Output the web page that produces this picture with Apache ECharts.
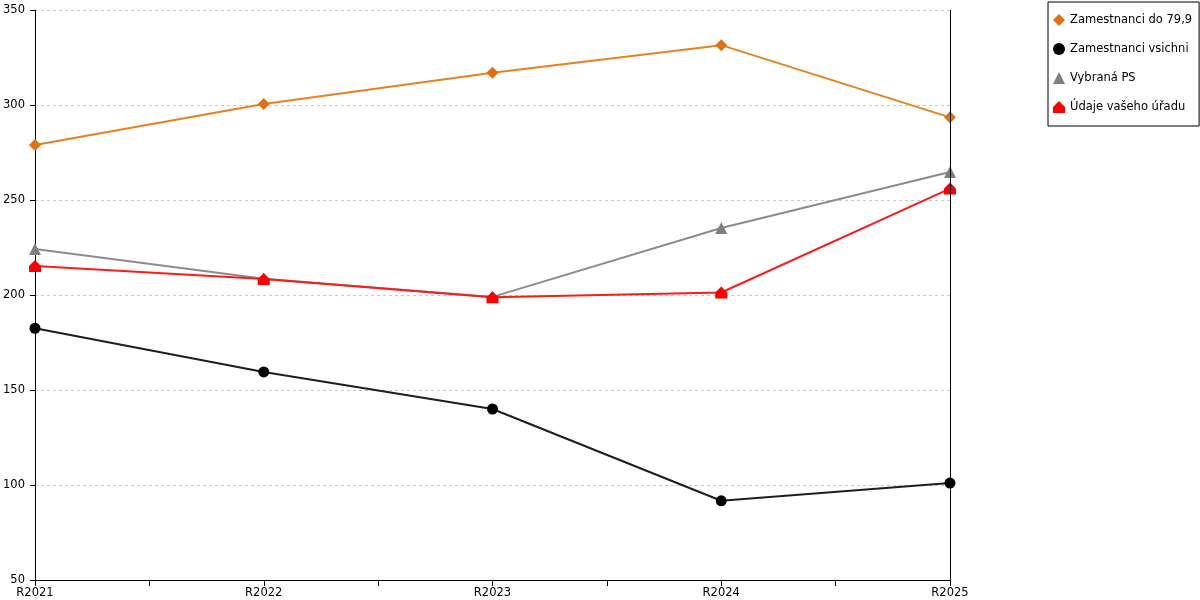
<!DOCTYPE html>
<html>
<head>
<meta charset="utf-8">
<script src="https://cdn.jsdelivr.net/npm/echarts@6/dist/echarts.min.js"></script>
<style>
html,body{margin:0;padding:0;background:#fff;}
#chart{width:1200px;height:600px;}
</style>
</head>
<body>
<div id="chart"></div>
<script>
var categories = ['R2021', 'R2022', 'R2023', 'R2024', 'R2025'];
var seriesNames = ['Zamestnanci do 79,9', 'Zamestnanci vsichni', 'Vybraná PS', 'Údaje vašeho úřadu'];
var orangeValues = [279, 300.5, 317, 331.5, 293.5];
var blackValues = [182.5, 159.5, 140, 91.7, 101];
var grayValues = [224.2, 208.5, 199, 235.3, 264.7];
var redValues = [215.2, 208.4, 198.8, 201.3, 256];
var yTicks = [50, 100, 150, 200, 250, 300, 350];

// house-shaped marker for the last series
var houseSymbol = 'path://M0,5 L5,0 L10,5 L10,10 L0,10 Z';

function toPoints(values){
	var pts = [];
	for (var i = 0; i < values.length; i++) {
		pts.push([i, values[i]]);
	}
	return pts;
}

var chart = echarts.init(document.getElementById('chart'));
var font = 'DejaVu Sans';

option = {
	animation: false,
	backgroundColor: '#fff',
	textStyle: { fontFamily: font },
	grid: { left: 35, right: 250, top: 10, bottom: 20, containLabel: false },
	legend: {
		orient: 'vertical',
		left: 1048,
		top: 2,
		padding: [12, 7, 13, 5],
		itemGap: 17,
		itemWidth: 12,
		itemHeight: 12,
		borderColor: '#000',
		borderWidth: 1,
		textStyle: { fontFamily: font, fontSize: 11.5, color: '#000' },
		data: [
			{ name: seriesNames[0], icon: 'diamond' },
			{ name: seriesNames[1], icon: 'circle' },
			{ name: seriesNames[2], icon: 'triangle' },
			{ name: seriesNames[3], icon: houseSymbol }
		]
	},
	xAxis: {
		type: 'value',
		min: 0,
		max: categories.length - 1,
		interval: 0.5,
		axisLine: { show: true, onZero: false, lineStyle: { color: '#000', width: 1 } },
		axisTick: { show: true, length: 6, inside: false, lineStyle: { color: '#000' } },
		splitLine: { show: false },
		axisLabel: {
			color: '#000',
			fontSize: 11.5,
			fontFamily: font,
			margin: 7,
			showMinLabel: true,
			showMaxLabel: true,
			formatter: function(v){
				return Number.isInteger(v) ? categories[v] : '';
			}
		}
	},
	yAxis: {
		type: 'value',
		position: 'left',
		min: yTicks[0],
		max: yTicks[yTicks.length - 1],
		interval: 50,
		axisLine: { show: true, onZero: false, lineStyle: { color: '#000', width: 1 } },
		axisTick: { show: true, inside: false, length: 5, lineStyle: { color: '#000', width: 1 } },
		axisLabel: { color: '#000', fontSize: 11.5, fontFamily: font, margin: 10 },
		splitLine: { show: true, lineStyle: { color: '#c8c8c8', type: [3, 3], width: 1 } }
	},
	series: [{
		name: seriesNames[0],
		type: 'line',
		data: toPoints(orangeValues),
		symbol: 'diamond',
		symbolSize: 12,
		itemStyle: { color: '#e2700f' },
		lineStyle: { color: '#e8821f', width: 2 },
		// right border of the plot, at the last category
		markLine: {
			silent: true,
			symbol: 'none',
			label: { show: false },
			lineStyle: { color: '#000', width: 1, type: 'solid' },
			data: [{ xAxis: categories.length - 1 }]
		}
	}, {
		name: seriesNames[1],
		type: 'line',
		data: toPoints(blackValues),
		symbol: 'circle',
		symbolSize: 11,
		itemStyle: { color: '#000' },
		lineStyle: { color: '#1e1e1e', width: 2 }
	}, {
		name: seriesNames[2],
		type: 'line',
		data: toPoints(grayValues),
		symbol: 'triangle',
		symbolSize: 12,
		itemStyle: { color: '#7f7f7f' },
		lineStyle: { color: '#8c8c8c', width: 2 }
	}, {
		name: seriesNames[3],
		type: 'line',
		data: toPoints(redValues),
		symbol: houseSymbol,
		symbolSize: 12,
		itemStyle: { color: '#ff0000' },
		lineStyle: { color: '#ff1a1a', width: 2 }
	}]
};
chart.setOption(option);

// y axis ticks placed through the axis scale
var tickMarks = [];
for (var i = 0; i < yTicks.length; i++) {
	var p = chart.convertToPixel({ gridIndex: 0 }, [0, yTicks[i]]);
	var y = Math.round(p[1]) + 0.5;
	tickMarks.push({
		type: 'line',
		z: 100,
		silent: true,
		shape: { x1: Math.round(p[0]) - 5, y1: y, x2: Math.round(p[0]), y2: y },
		style: { stroke: '#000', lineWidth: 1 }
	});
}
chart.setOption({ graphic: tickMarks });
</script>
</body>
</html>
